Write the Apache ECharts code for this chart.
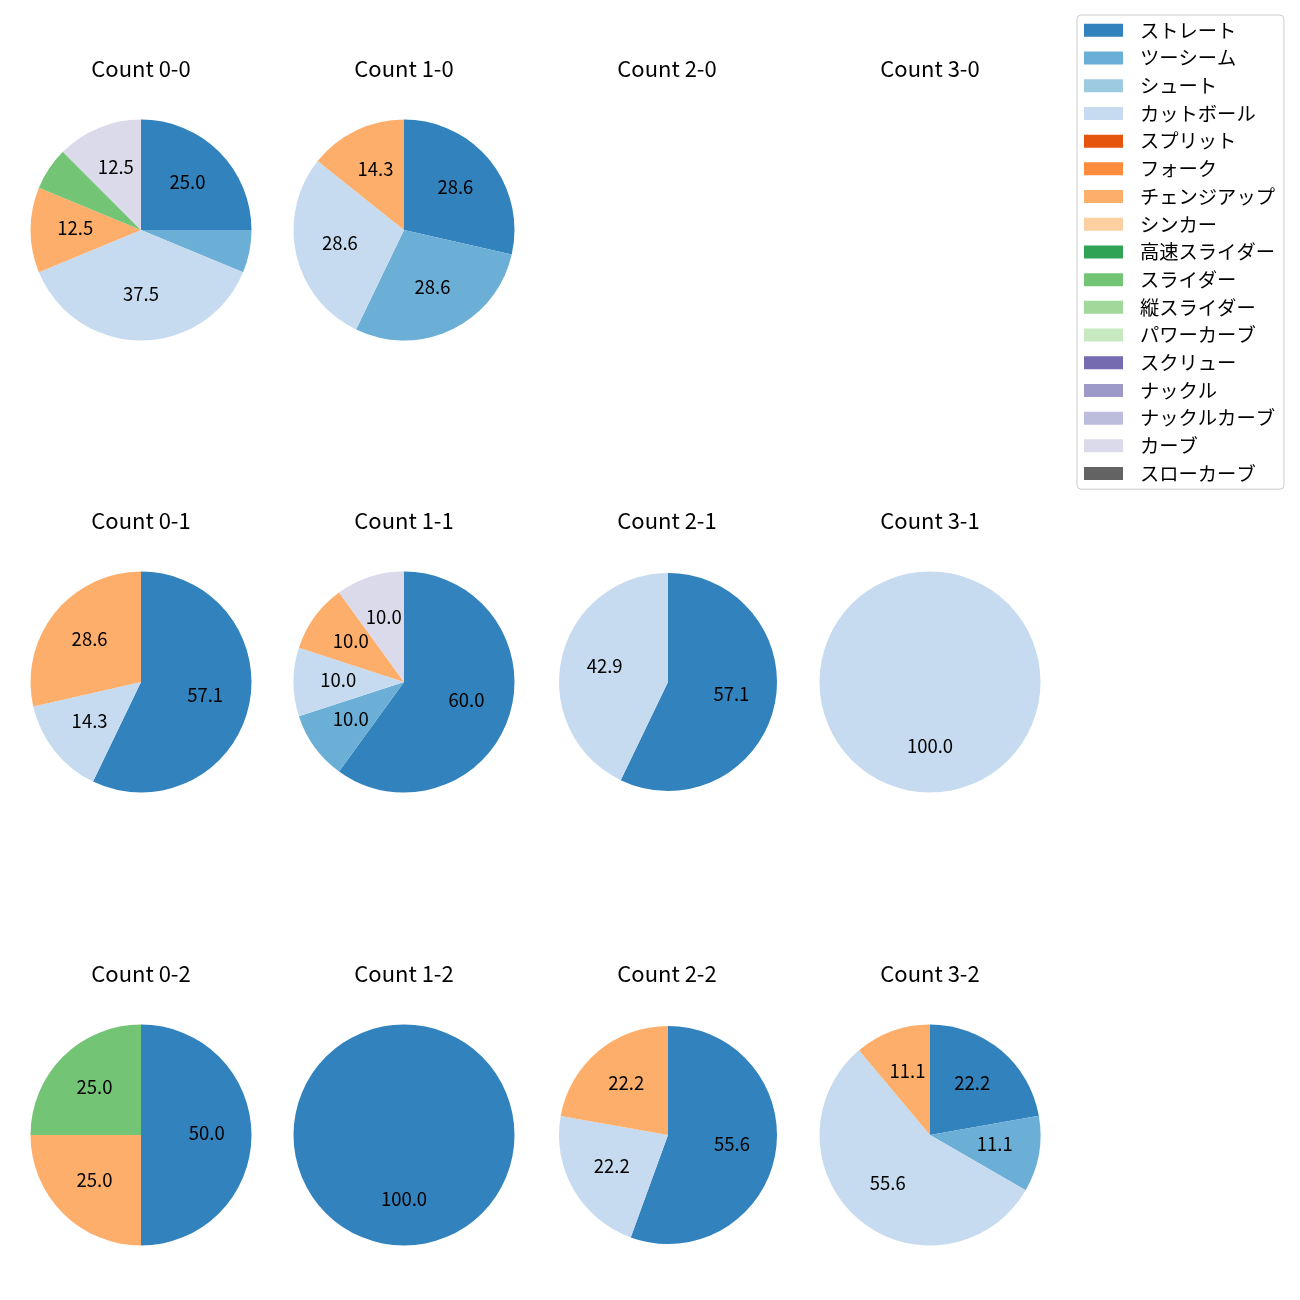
<!DOCTYPE html>
<html>
<head>
<meta charset="utf-8">
<script src="https://cdn.jsdelivr.net/npm/echarts@6/dist/echarts.min.js"></script>
<style>html,body{margin:0;padding:0;background:#fff}#c{width:1300px;height:1300px}</style>
</head>
<body>
<div id="c"></div>
<script>
// ---- data ----
const categories = ['ストレート','ツーシーム','シュート','カットボール','スプリット','フォーク','チェンジアップ','シンカー','高速スライダー','スライダー','縦スライダー','パワーカーブ','スクリュー','ナックル','ナックルカーブ','カーブ','スローカーブ'];
const panelTitles = ['Count 0-0','Count 1-0','Count 2-0','Count 3-0','Count 0-1','Count 1-1','Count 2-1','Count 3-1','Count 0-2','Count 1-2','Count 2-2','Count 3-2'];
// pitch counts per panel, aligned with categories
const count_0_0 = [4,1,0,6,0,0,2,0,0,1,0,0,0,0,0,2,0];
const count_1_0 = [2,2,0,2,0,0,1,0,0,0,0,0,0,0,0,0,0];
const count_2_0 = [0,0,0,0,0,0,0,0,0,0,0,0,0,0,0,0,0];
const count_3_0 = [0,0,0,0,0,0,0,0,0,0,0,0,0,0,0,0,0];
const count_0_1 = [4,0,0,1,0,0,2,0,0,0,0,0,0,0,0,0,0];
const count_1_1 = [6,1,0,1,0,0,1,0,0,0,0,0,0,0,0,1,0];
const count_2_1 = [4,0,0,3,0,0,0,0,0,0,0,0,0,0,0,0,0];
const count_3_1 = [0,0,0,1,0,0,0,0,0,0,0,0,0,0,0,0,0];
const count_0_2 = [2,0,0,0,0,0,1,0,0,1,0,0,0,0,0,0,0];
const count_1_2 = [1,0,0,0,0,0,0,0,0,0,0,0,0,0,0,0,0];
const count_2_2 = [5,0,0,2,0,0,2,0,0,0,0,0,0,0,0,0,0];
const count_3_2 = [2,1,0,5,0,0,1,0,0,0,0,0,0,0,0,0,0];
const panelCounts = [count_0_0,count_1_0,count_2_0,count_3_0,count_0_1,count_1_1,count_2_1,count_3_1,count_0_2,count_1_2,count_2_2,count_3_2];

// ---- style ----
const palette = ['#3182bd','#6baed6','#9ecae1','#c6dbef','#e6550d','#fd8d3c','#fdae6b','#fdd0a2','#31a354','#74c476','#a1d99b','#c7e9c0','#756bb1','#9e9ac8','#bcbddc','#dadaeb','#636363'];
const FONT = '"Noto Sans CJK JP", "Noto Sans", sans-serif';
const colX = [141, 404, 668, 930];
const colR = [110.5, 110.5, 109, 110.5];
const rowY = [230, 682, 1135];
const titleFs = 22, labelFs = 18.5, legendFs = 19.3;

const series = [];
const titles = [];
// dummy series for legend
series.push({
  type:'pie', center:[-500,-500], radius:5, silent:true, animation:false,
  label:{show:false}, labelLine:{show:false},
  data: categories.map((c,i)=>({name:c, value:1, itemStyle:{color:palette[i]}}))
});

panelCounts.forEach((counts, p) => {
  const cx = colX[p % 4], cy = rowY[Math.floor(p / 4)], R = colR[p % 4];
  titles.push({
    text: panelTitles[p], left: colX[p % 4] - (p % 4 === 2 ? 1 : 0), top: cy - 161 - titleFs/2, textAlign:'center', padding:0,
    textStyle:{fontFamily:FONT, fontSize:titleFs, fontWeight:'normal', color:'#000', lineHeight:titleFs}
  });
  const total = counts.reduce((a,b)=>a+b,0);
  if (total === 0) return;
  const items = [];
  counts.forEach((v,i)=>{ if (v>0) items.push({name:categories[i], value:v, itemStyle:{color:palette[i]}}); });
  series.push({
    type:'pie', center:[cx,cy], radius:[0,R], startAngle:90, clockwise:true, silent:true, animation:false,
    label:{show:false}, labelLine:{show:false}, emphasis:{disabled:true},
    data: items
  });
  series.push({
    type:'pie', center:[cx,cy], radius:[15,R], startAngle:90, clockwise:true, silent:true, animation:false,
    itemStyle:{color:'rgba(0,0,0,0)'}, labelLine:{show:false}, emphasis:{disabled:true},
    label:{show:true, position:'inside', fontFamily:FONT, fontSize:labelFs, color:'#000', offset:[0,-2],
      formatter: (pr) => { const pct = pr.value/total*100; return pct >= 8 ? pct.toFixed(1) : ''; }},
    data: items.map(d=>({value:d.value}))
  });
});

const chart = echarts.init(document.getElementById('c'), null, {renderer:'canvas'});
chart.setOption({
  backgroundColor:'#fff',
  animation:false,
  title: titles,
  legend: {
    orient:'vertical', left:1077, top:15, icon:'rect', itemWidth:39, itemHeight:13, itemGap:27.7-legendFs,
    padding:[(27.7-legendFs)/2+1.5,9,6,7], borderColor:'#cccccc', borderWidth:1, borderRadius:4,
    selectedMode:false,
    textStyle:{fontFamily:FONT, fontSize:legendFs, color:'#000', lineHeight:legendFs, padding:[0,0,0,12]},
    data: categories
  },
  series: series
});
</script>
</body>
</html>
